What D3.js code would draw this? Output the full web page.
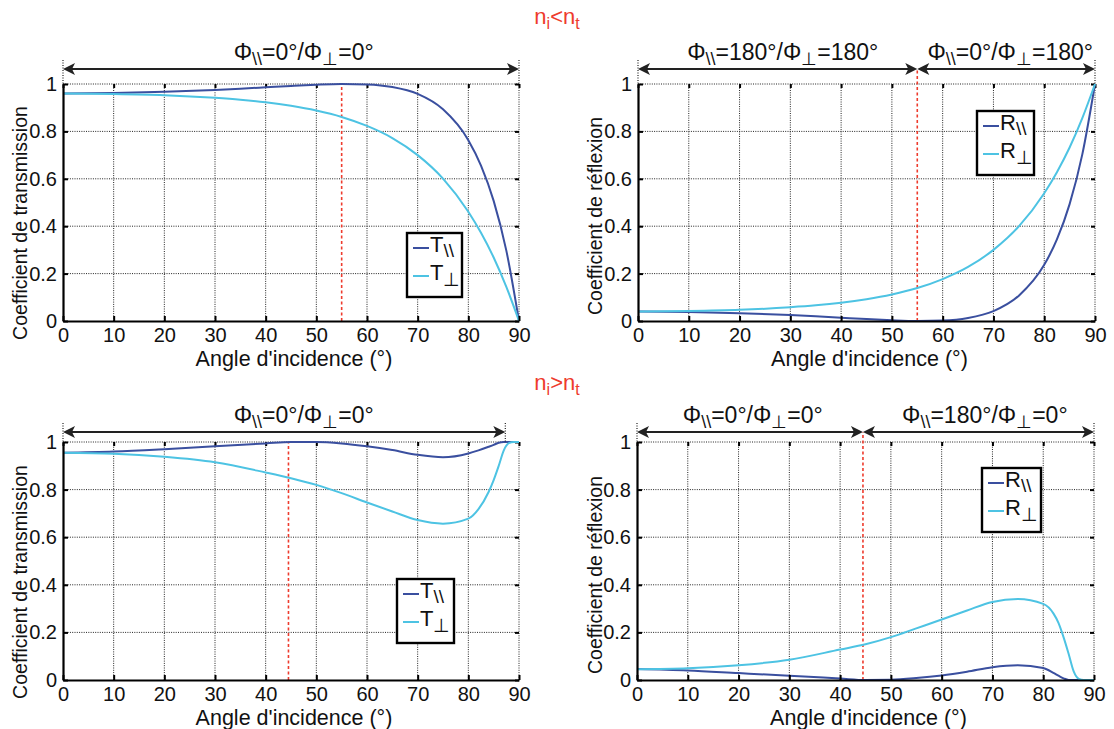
<!DOCTYPE html>
<html><head><meta charset="utf-8">
<script src="https://cdn.jsdelivr.net/npm/d3@7"></script>
<style>body{margin:0;background:#fff}</style>
</head><body>
<svg id="c" width="1114" height="729"></svg>
<script>
// ---------- data ----------
const xTicks = [0,10,20,30,40,50,60,70,80,90];
const yTicks = [0,0.2,0.4,0.6,0.8,1];
const yTickLabels = ["0","0.2","0.4","0.6","0.8","1"];

// n_i < n_t
const anglesTop = [0,10,20,30,35,40,45,50,55,60,65,70,75,80,82.5,85,87.5,90];
const tParTop  = [0.960,0.962,0.967,0.975,0.980,0.986,0.992,0.997,1.000,0.998,0.987,0.958,0.893,0.763,0.656,0.507,0.297,0];
const tPerpTop = [0.960,0.958,0.953,0.942,0.934,0.923,0.908,0.888,0.861,0.823,0.772,0.700,0.601,0.461,0.372,0.268,0.144,0];
const rParTop  = [0.040,0.038,0.033,0.025,0.020,0.014,0.008,0.003,0.000,0.002,0.013,0.042,0.107,0.237,0.344,0.493,0.703,1];
const rPerpTop = [0.040,0.042,0.047,0.058,0.066,0.077,0.092,0.112,0.139,0.177,0.228,0.300,0.399,0.539,0.628,0.732,0.856,1];

// n_i > n_t
const anglesBotT = [0,10,20,30,40,45,50,55,60,65,70,75,80,82,84,85,86,87,88,89,90];
const tParBot  = [0.955,0.960,0.970,0.982,0.994,1.000,1.000,0.994,0.982,0.966,0.946,0.936,0.952,0.965,0.980,0.988,0.997,1.000,1.000,1.000,1.000];
const tPerpBot = [0.955,0.951,0.938,0.915,0.872,0.848,0.820,0.785,0.746,0.708,0.672,0.657,0.678,0.718,0.790,0.840,0.900,0.965,0.995,1.000,1.000];
const anglesBotR = [0,10,20,30,40,45,50,55,60,65,70,75,80,82,83,84,85,86,87,88,90];
const rParBot  = [0.046,0.040,0.029,0.018,0.006,0.000,0.001,0.008,0.019,0.035,0.054,0.062,0.050,0.030,0.018,0.007,0.000,0,0,0,0];
const rPerpBot = [0.045,0.049,0.062,0.085,0.128,0.150,0.180,0.217,0.254,0.292,0.328,0.340,0.320,0.280,0.240,0.180,0.110,0.036,0.005,0,0];

const angleTopSplit = 55;     // red dashed line (top)
const angleBotSplit = 44.5;   // red dashed line (bottom)
const angleBotTLEnd = 87.3;   // end of phase arrow (bottom-left)

const phaseTL = [["0°","0°"]];
const phaseTR = [["180°","180°"],["0°","180°"]];
const phaseBL = [["0°","0°"]];
const phaseBR = [["0°","0°"],["180°","0°"]];

// ---------- drawing ----------
const svg = d3.select("#c");
const FONT = "'Liberation Sans', Arial, Helvetica, sans-serif";
svg.style("font-family", FONT);
const DARK = "#3a4f9f", LIGHT = "#4dc3e3", RED = "#ee3b2d";

function subText(sel, main, sub, subSize, shift){
  sel.append("tspan").text(main);
  sel.append("tspan").attr("dy", shift).style("font-size", subSize+"px").text(sub);
}

function phiLabel(g, cx, by, par, perp){
  const t = g.append("text").attr("x", cx).attr("y", by)
    .attr("text-anchor","middle").style("font-size","23px").attr("fill","#111");
  t.append("tspan").text("Φ");
  t.append("tspan").attr("dy",5).style("font-size","18px").text("\\\\");
  t.append("tspan").attr("dy",-5).text("=" + par + "/Φ");
  t.append("tspan").attr("dy",5).style("font-size","18px").text("⊥");
  t.append("tspan").attr("dy",-5).text("=" + perp);
}

function arrowHead(g, tx, ty, dir){
  g.append("path")
    .attr("d", `M${tx},${ty} L${tx-dir*12},${ty-6} L${tx-dir*9},${ty} L${tx-dir*12},${ty+6} Z`)
    .attr("fill","#222");
}

function panel(cfg){
  const x = d3.scaleLinear().domain([0,90]).range([cfg.x0, cfg.x1]);
  const y = d3.scaleLinear().domain([0,1]).range([cfg.y0, cfg.y1]);
  const g = svg.append("g");

  // grid
  g.selectAll(null).data(xTicks.slice(1)).join("line")
    .attr("x1", d=>x(d)).attr("x2", d=>x(d)).attr("y1", y(0)).attr("y2", y(1))
    .attr("stroke","#222").attr("stroke-width",1).attr("stroke-dasharray","1,1.3");
  g.selectAll(null).data(yTicks.slice(1)).join("line")
    .attr("x1", x(0)).attr("x2", x(90)).attr("y1", d=>y(d)).attr("y2", d=>y(d))
    .attr("stroke","#222").attr("stroke-width",1).attr("stroke-dasharray","1,1.3");

  // top & right minor ticks
  g.append("g").attr("transform",`translate(0,${y(1)})`)
    .call(d3.axisTop(x).tickValues(xTicks).tickSize(-4).tickFormat(""))
    .call(a=>a.select(".domain").remove())
    .call(a=>a.selectAll("line").attr("stroke","#000").attr("stroke-width",2));
  g.append("g").attr("transform",`translate(${x(90)},0)`)
    .call(d3.axisRight(y).tickValues(yTicks).tickSize(-4).tickFormat(""))
    .call(a=>a.select(".domain").remove())
    .call(a=>a.selectAll("line").attr("stroke","#000").attr("stroke-width",2));

  // red dashed line
  g.append("line").attr("x1", x(cfg.red)).attr("x2", x(cfg.red))
    .attr("y1", y(0)).attr("y2", cfg.redToArrow ? cfg.arrowY : y(1))
    .attr("stroke", RED).attr("stroke-width",1.6).attr("stroke-dasharray","3,2.5");

  // series
  const line = d3.line().x(d=>x(d[0])).y(d=>y(d[1])).curve(d3.curveMonotoneX);
  cfg.series.forEach(s=>{
    g.append("path").datum(s.ang.map((a,i)=>[a, s.val[i]]))
      .attr("d", line).attr("fill","none").attr("stroke", s.color).attr("stroke-width",2);
  });

  // axes
  const xa = g.append("g").attr("transform",`translate(0,${y(0)})`)
    .call(d3.axisBottom(x).tickValues(xTicks).tickSize(-5).tickSizeOuter(0).tickPadding(7));
  const ya = g.append("g").attr("transform",`translate(${x(0)},0)`)
    .call(d3.axisLeft(y).tickValues(yTicks).tickFormat((d,i)=>yTickLabels[i]).tickSize(-5).tickSizeOuter(0).tickPadding(6));
  [xa, ya].forEach(a=>{
    a.select(".domain").attr("stroke","#000").attr("stroke-width",2.2);
    a.selectAll(".tick line").attr("stroke","#000").attr("stroke-width",2);
    a.selectAll("text").style("font-size","20px").style("font-family",FONT).attr("fill","#111");
  });

  // axis titles
  g.append("text").attr("x", (cfg.x0+cfg.x1)/2 + 3).attr("y", y(0)+45)
    .attr("text-anchor","middle").style("font-size","21.5px").attr("fill","#111")
    .text("Angle d'incidence (°)");
  g.append("text").attr("transform",`translate(${cfg.ylabX},${cfg.ylabY}) rotate(-90)`)
    .attr("text-anchor","middle").style("font-size","19.5px").attr("fill","#111")
    .text(cfg.ylab);

  // phase arrows
  const ay = cfg.arrowY;
  cfg.dots.forEach(a=>{
    g.append("line").attr("x1", x(a)).attr("x2", x(a)).attr("y1", ay-9).attr("y2", y(1))
      .attr("stroke","#222").attr("stroke-width",1.2).attr("stroke-dasharray","1,1.5");
  });
  cfg.segs.forEach((sg,i)=>{
    g.append("line").attr("x1", x(sg[0])+4).attr("x2", x(sg[1])-4).attr("y1", ay).attr("y2", ay)
      .attr("stroke","#222").attr("stroke-width",2);
    arrowHead(g, x(sg[0]), ay, -1);
    arrowHead(g, x(sg[1]), ay, 1);
    phiLabel(g, x(cfg.labelAt[i]), ay-9, cfg.phase[i][0], cfg.phase[i][1]);
  });

  // legend
  const L = cfg.legend;
  g.append("rect").attr("x", L.x).attr("y", L.y).attr("width", L.w).attr("height", 64)
    .attr("fill","#fff").attr("stroke","#000").attr("stroke-width",2.4);
  cfg.series.forEach((s,i)=>{
    const ly = L.y + 15 + i*28;
    g.append("line").attr("x1", L.x+6).attr("x2", L.x+22).attr("y1", ly).attr("y2", ly)
      .attr("stroke", s.color).attr("stroke-width",2);
    const t = g.append("text").attr("x", L.x+23).attr("y", ly+4)
      .style("font-size","22px").attr("fill","#111");
    if(i===0) subText(t, L.sym, "\\\\", 19, 5);
    else subText(t, L.sym, "⊥", 19, 6);
  });
}

panel({x0:63, x1:519, y0:321, y1:84, ylab:"Coefficient de transmission", ylabX:27, ylabY:223,
  series:[{ang:anglesTop, val:tParTop, color:DARK},{ang:anglesTop, val:tPerpTop, color:LIGHT}],
  red:angleTopSplit, redToArrow:false, arrowY:69, segs:[[0,90]], dots:[0,90], labelAt:[47.5], phase:phaseTL,
  legend:{x:407, y:233, w:55, sym:"T"}});

panel({x0:638, x1:1095, y0:321, y1:84, ylab:"Coefficient de réflexion", ylabX:602, ylabY:216,
  series:[{ang:anglesTop, val:rParTop, color:DARK},{ang:anglesTop, val:rPerpTop, color:LIGHT}],
  red:angleTopSplit, redToArrow:true, arrowY:69, segs:[[0,angleTopSplit],[angleTopSplit,90]], dots:[0,90], labelAt:[28.5,73.3], phase:phaseTR,
  legend:{x:977, y:111, w:57, sym:"R"}});

panel({x0:63, x1:519, y0:680, y1:442, ylab:"Coefficient de transmission", ylabX:27, ylabY:582,
  series:[{ang:anglesBotT, val:tParBot, color:DARK},{ang:anglesBotT, val:tPerpBot, color:LIGHT}],
  red:angleBotSplit, redToArrow:false, arrowY:432, segs:[[0,angleBotTLEnd]], dots:[0,angleBotTLEnd], labelAt:[47.5], phase:phaseBL,
  legend:{x:397, y:579, w:57, sym:"T"}});

panel({x0:637, x1:1094, y0:680, y1:442, ylab:"Coefficient de réflexion", ylabX:602, ylabY:575,
  series:[{ang:anglesBotR, val:rParBot, color:DARK},{ang:anglesBotR, val:rPerpBot, color:LIGHT}],
  red:angleBotSplit, redToArrow:true, arrowY:432, segs:[[0,angleBotSplit],[angleBotSplit,90]], dots:[0,90], labelAt:[22.8,68.5], phase:phaseBR,
  legend:{x:982, y:468, w:59, sym:"R"}});

// n_i vs n_t headers
function nLabel(cx, by, op){
  const t = svg.append("text").attr("x", cx).attr("y", by).attr("text-anchor","middle")
    .style("font-size","22px").attr("fill", RED);
  t.append("tspan").text("n");
  t.append("tspan").attr("dy",5).style("font-size","16px").text("i");
  t.append("tspan").attr("dy",-5).text(op + "n");
  t.append("tspan").attr("dy",5).style("font-size","16px").text("t");
}
nLabel(557, 24, "<");
nLabel(557, 390, ">");
</script>
</body></html>
